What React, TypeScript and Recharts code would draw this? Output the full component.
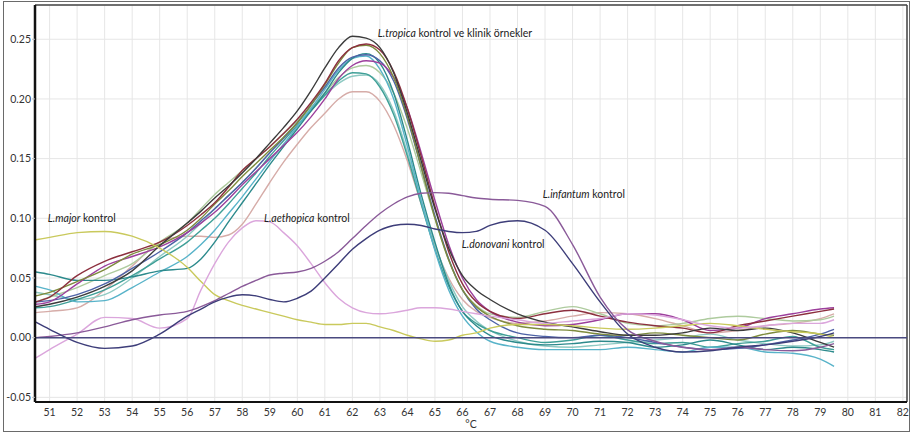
import React from 'react';
import {
  LineChart,
  Line,
  XAxis,
  YAxis,
  CartesianGrid,
  ReferenceLine,
  ReferenceDot,
  Label,
} from 'recharts';

// melting temperatures (°C) where each curve is sampled
const temps = [
  50.5, 51, 52, 53, 54, 55, 56, 56.5, 57, 57.5, 58, 58.5, 59, 59.5, 60, 60.5, 61, 61.5, 62, 62.5,
  63, 63.5, 64, 64.5, 65, 65.5, 66, 66.5, 67, 68, 69, 70, 71, 72, 73, 74, 75, 76, 77, 78, 79, 79.5,
];

const xTicks = [
  51, 52, 53, 54, 55, 56, 57, 58, 59, 60, 61, 62, 63, 64, 65, 66, 67, 68, 69, 70, 71, 72, 73, 74,
  75, 76, 77, 78, 79, 80, 81, 82,
];
const yTicks = [-0.05, 0, 0.05, 0.1, 0.15, 0.2, 0.25];

// L.tropica control + clinical samples
const tropicaBlack = [0.026, 0.028, 0.034, 0.043, 0.056, 0.077, 0.096, 0.106, 0.117, 0.127, 0.138, 0.150, 0.163, 0.176, 0.190, 0.207, 0.226, 0.243, 0.2525, 0.251, 0.243, 0.222, 0.188, 0.148, 0.108, 0.075, 0.052, 0.040, 0.032, 0.020, 0.013, 0.009, 0.005, 0.002, 0.002, 0.004, 0.008, 0.006, 0.008, 0.004, -0.004, -0.008];
const tropicaRed = [0.030, 0.034, 0.052, 0.064, 0.072, 0.080, 0.094, 0.103, 0.113, 0.126, 0.140, 0.150, 0.160, 0.171, 0.183, 0.197, 0.213, 0.232, 0.243, 0.246, 0.241, 0.223, 0.192, 0.152, 0.110, 0.072, 0.045, 0.030, 0.022, 0.016, 0.020, 0.023, 0.018, 0.013, 0.010, 0.008, 0.004, 0.010, 0.014, 0.018, 0.022, 0.024];
const tropicaOlive = [0.035, 0.038, 0.047, 0.057, 0.070, 0.078, 0.090, 0.100, 0.112, 0.123, 0.135, 0.146, 0.157, 0.168, 0.180, 0.195, 0.212, 0.230, 0.243, 0.245, 0.238, 0.218, 0.185, 0.143, 0.100, 0.065, 0.040, 0.026, 0.018, 0.010, 0.007, 0.006, 0.003, 0.002, 0.004, 0.002, 0.000, -0.002, 0.003, 0.006, 0.003, 0.002];
const tropicaPurple = [0.028, 0.030, 0.045, 0.060, 0.068, 0.076, 0.088, 0.096, 0.105, 0.116, 0.128, 0.139, 0.150, 0.161, 0.172, 0.185, 0.200, 0.217, 0.228, 0.232, 0.230, 0.218, 0.192, 0.155, 0.115, 0.078, 0.050, 0.032, 0.022, 0.013, 0.010, 0.011, 0.015, 0.020, 0.020, 0.015, 0.006, 0.008, 0.016, 0.020, 0.024, 0.025];
const tropicaTeal = [0.055, 0.053, 0.048, 0.048, 0.051, 0.056, 0.058, 0.066, 0.080, 0.097, 0.113, 0.129, 0.145, 0.160, 0.175, 0.190, 0.205, 0.222, 0.234, 0.238, 0.230, 0.205, 0.165, 0.120, 0.080, 0.045, 0.022, 0.010, 0.002, -0.004, -0.006, -0.005, -0.003, -0.004, -0.008, -0.006, -0.002, -0.006, -0.010, -0.008, -0.010, -0.012];
const tropicaCyan = [0.043, 0.040, 0.030, 0.031, 0.042, 0.055, 0.068, 0.078, 0.090, 0.104, 0.118, 0.133, 0.148, 0.162, 0.177, 0.192, 0.208, 0.224, 0.234, 0.236, 0.225, 0.200, 0.160, 0.115, 0.073, 0.040, 0.018, 0.005, -0.003, -0.008, -0.010, -0.010, -0.010, -0.008, -0.010, -0.012, -0.008, -0.008, -0.012, -0.013, -0.018, -0.024];
const tropicaLightGreen = [0.030, 0.034, 0.042, 0.052, 0.062, 0.080, 0.096, 0.108, 0.120, 0.130, 0.140, 0.150, 0.160, 0.171, 0.182, 0.193, 0.205, 0.218, 0.226, 0.228, 0.222, 0.205, 0.175, 0.138, 0.100, 0.065, 0.040, 0.027, 0.020, 0.017, 0.022, 0.026, 0.020, 0.012, 0.010, 0.012, 0.016, 0.018, 0.016, 0.014, 0.015, 0.018];
const tropicaTeal2 = [0.025, 0.026, 0.032, 0.040, 0.052, 0.066, 0.080, 0.090, 0.100, 0.112, 0.125, 0.138, 0.152, 0.165, 0.178, 0.190, 0.203, 0.215, 0.222, 0.221, 0.210, 0.187, 0.152, 0.112, 0.074, 0.043, 0.022, 0.012, 0.006, 0.000, -0.004, -0.002, 0.002, -0.002, -0.005, -0.004, -0.008, -0.005, -0.003, 0.001, -0.008, -0.010];
const tropicaLightTeal = [0.038, 0.036, 0.032, 0.036, 0.050, 0.068, 0.085, 0.096, 0.108, 0.119, 0.130, 0.142, 0.155, 0.168, 0.180, 0.192, 0.203, 0.213, 0.219, 0.220, 0.212, 0.190, 0.155, 0.115, 0.078, 0.048, 0.026, 0.014, 0.006, -0.003, -0.007, -0.008, -0.006, -0.004, -0.002, 0.000, 0.003, -0.002, -0.005, -0.007, -0.006, -0.003];
const tropicaRose = [0.021, 0.022, 0.025, 0.040, 0.060, 0.080, 0.085, 0.085, 0.084, 0.086, 0.095, 0.112, 0.130, 0.147, 0.162, 0.176, 0.188, 0.200, 0.206, 0.206, 0.198, 0.178, 0.148, 0.112, 0.077, 0.050, 0.032, 0.022, 0.017, 0.012, 0.014, 0.018, 0.021, 0.020, 0.016, 0.010, 0.004, 0.006, 0.010, 0.012, 0.016, 0.020];
const tropicaBlue = [0.030, 0.031, 0.036, 0.045, 0.058, 0.072, 0.088, 0.098, 0.108, 0.119, 0.130, 0.142, 0.155, 0.167, 0.180, 0.195, 0.210, 0.226, 0.235, 0.237, 0.232, 0.215, 0.183, 0.143, 0.102, 0.066, 0.040, 0.024, 0.015, 0.004, 0.001, 0.000, 0.002, 0.000, -0.004, -0.008, -0.010, -0.009, -0.006, -0.002, 0.003, 0.007];

// other species controls
const majorCtrl = [0.082, 0.084, 0.088, 0.089, 0.085, 0.075, 0.059, 0.047, 0.036, 0.031, 0.027, 0.024, 0.021, 0.018, 0.015, 0.013, 0.011, 0.011, 0.012, 0.012, 0.009, 0.006, 0.002, -0.001, -0.003, -0.002, 0.002, 0.004, 0.008, 0.011, 0.011, 0.010, 0.008, 0.007, 0.008, 0.010, 0.012, 0.010, 0.007, 0.005, 0.003, 0.000];
const aethiopicaCtrl = [-0.017, -0.010, 0.003, 0.017, 0.016, 0.008, 0.016, 0.040, 0.062, 0.080, 0.092, 0.098, 0.097, 0.088, 0.077, 0.062, 0.046, 0.033, 0.025, 0.021, 0.020, 0.021, 0.023, 0.025, 0.025, 0.024, 0.022, 0.020, 0.018, 0.015, 0.012, 0.014, 0.016, 0.020, 0.019, 0.015, 0.010, 0.008, 0.010, 0.012, 0.012, 0.015];
const infantumCtrl = [0.000, 0.001, 0.004, 0.009, 0.015, 0.019, 0.022, 0.026, 0.031, 0.037, 0.043, 0.048, 0.0525, 0.054, 0.055, 0.058, 0.064, 0.072, 0.083, 0.094, 0.104, 0.112, 0.118, 0.121, 0.1215, 0.121, 0.119, 0.117, 0.116, 0.115, 0.110, 0.078, 0.034, 0.0065, -0.003, -0.008, -0.010, -0.008, -0.010, -0.011, -0.008, -0.005];
const donovaniCtrl = [0.013, 0.007, -0.004, -0.009, -0.007, 0.003, 0.018, 0.024, 0.030, 0.034, 0.036, 0.035, 0.032, 0.030, 0.033, 0.039, 0.050, 0.062, 0.074, 0.083, 0.090, 0.094, 0.095, 0.094, 0.091, 0.089, 0.088, 0.089, 0.094, 0.098, 0.090, 0.062, 0.030, 0.003, -0.008, -0.012, -0.011, -0.008, -0.006, -0.003, 0.001, 0.004];

const series = [
  { key: 'rose', color: '#d6aca8', values: tropicaRose },
  { key: 'lteal', color: '#8fcac3', values: tropicaLightTeal },
  { key: 'lgreen', color: '#aecb9e', values: tropicaLightGreen },
  { key: 'teal2', color: '#3f9f97', values: tropicaTeal2 },
  { key: 'cyan', color: '#58b3c9', values: tropicaCyan },
  { key: 'teal', color: '#2c8a8c', values: tropicaTeal },
  { key: 'blue', color: '#4d62a6', values: tropicaBlue },
  { key: 'purple', color: '#9c3f9c', values: tropicaPurple },
  { key: 'olive', color: '#7d8b3c', values: tropicaOlive },
  { key: 'red', color: '#8c2f3e', values: tropicaRed },
  { key: 'black', color: '#3b3b3b', values: tropicaBlack },
  { key: 'major', color: '#c9c95c', values: majorCtrl },
  { key: 'aeth', color: '#dba6dc', values: aethiopicaCtrl },
  { key: 'infantum', color: '#8a5a99', values: infantumCtrl },
  { key: 'donovani', color: '#3d3d79', values: donovaniCtrl },
];

const rows = temps.map((t, i) => {
  const row: Record<string, number> = { t };
  series.forEach((s) => {
    row[s.key] = s.values[i];
  });
  return row;
});

const X_MIN = 50.47;
const X_MAX = 82.15;
const Y_MIN = -0.0539;
const Y_MAX = 0.2787;
const FONT = 'Lato, "Open Sans", sans-serif';

const Note = (props: any) => {
  const { viewBox, lead, tail } = props;
  const x = viewBox ? viewBox.x : 0;
  const y = viewBox ? viewBox.y : 0;
  return (
    <text x={x} y={y} dy="0.35em" fontSize={10.5} fontFamily={FONT} fill="#222">
      <tspan fontStyle="italic">{lead}</tspan>
      {tail}
    </text>
  );
};

export default function App() {
  return (
    <div style={{ position: 'absolute', left: 0, top: 0, width: 911, height: 437, background: '#fff' }}>
      <div
        style={{
          position: 'absolute',
          left: 3,
          top: 1,
          width: 905,
          height: 429,
          border: '1px solid #6a6a6a',
        }}
      />
      <LineChart
        width={911}
        height={437}
        data={rows}
        margin={{ top: 5, right: 4, bottom: 10, left: 5 }}
        style={{ position: 'absolute', left: 0, top: 0 }}
      >
        <CartesianGrid stroke="#e6e6e6" strokeWidth={1} />
        <XAxis
          type="number"
          dataKey="t"
          domain={[X_MIN, X_MAX]}
          ticks={xTicks}
          interval={0}
          allowDataOverflow
          height={25}
          tickLine={false}
          tickSize={6}
          tickMargin={1}
          axisLine={{ stroke: '#111', strokeWidth: 2 }}
          tick={{ fontSize: 10.5, fill: '#333', fontFamily: FONT }}
        >
          <Label value="°C" position="insideBottom" offset={-1} fontSize={10.5} fill="#333" fontFamily={FONT} />
        </XAxis>
        <YAxis
          type="number"
          domain={[Y_MIN, Y_MAX]}
          ticks={yTicks}
          interval={0}
          allowDataOverflow
          width={30}
          tickSize={3}
          tickMargin={1}
          tickLine={{ stroke: '#bbb' }}
          tickFormatter={(v: number) => v.toFixed(2)}
          axisLine={{ stroke: '#111', strokeWidth: 2.5 }}
          tick={{ fontSize: 10.5, fill: '#333', fontFamily: FONT }}
        />
        <ReferenceLine y={Y_MAX} stroke="#444" strokeWidth={1.5} />
        <ReferenceLine x={X_MAX} stroke="#444" strokeWidth={1.5} />
        {series.map((s) => (
          <Line
            key={s.key}
            type="monotone"
            dataKey={s.key}
            stroke={s.color}
            strokeWidth={1.4}
            dot={false}
            activeDot={false}
            isAnimationActive={false}
          />
        ))}
        <ReferenceLine y={0} stroke="#4a4a80" strokeWidth={1.5} />
        <ReferenceDot x={62.93} y={0.255} r={0.1} fill="none" stroke="none" label={<Note lead="L.tropica" tail=" kontrol ve klinik örnekler" />} />
        <ReferenceDot x={50.94} y={0.1} r={0.1} fill="none" stroke="none" label={<Note lead="L.major" tail=" kontrol" />} />
        <ReferenceDot x={58.79} y={0.1} r={0.1} fill="none" stroke="none" label={<Note lead="L.aethopica" tail=" kontrol" />} />
        <ReferenceDot x={68.92} y={0.1203} r={0.1} fill="none" stroke="none" label={<Note lead="L.infantum" tail=" kontrol" />} />
        <ReferenceDot x={65.98} y={0.0785} r={0.1} fill="none" stroke="none" label={<Note lead="L.donovani" tail=" kontrol" />} />
      </LineChart>
    </div>
  );
}
